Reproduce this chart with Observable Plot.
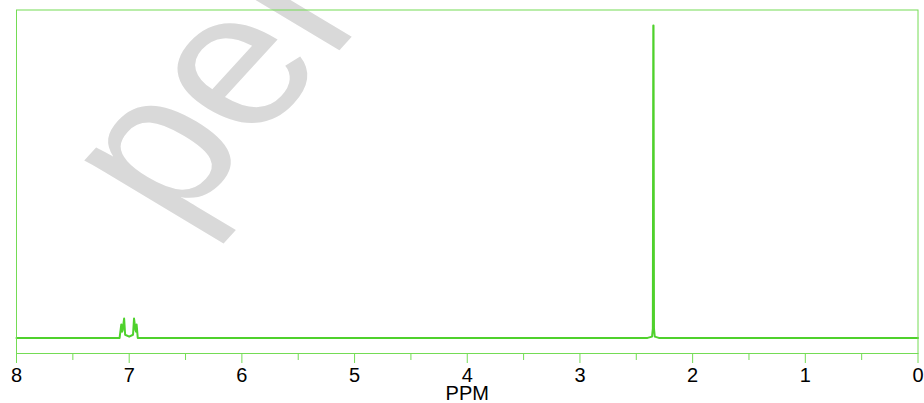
<!DOCTYPE html>
<html>
<head>
<meta charset="utf-8">
<script src="https://cdn.jsdelivr.net/npm/d3@7"></script>
<script src="https://cdn.jsdelivr.net/npm/@observablehq/plot@0.6"></script>
<style>
  html, body { margin: 0; padding: 0; background: white; }
</style>
</head>
<body>
<div id="chart"></div>
<script>
// Spectrum points (chemical shift in ppm, relative intensity)
const ppm = [8.0, 7.085, 7.070, 7.063, 7.058, 7.045, 7.036, 7.000, 6.966, 6.957, 6.944, 6.939, 6.934, 6.924,
             2.40, 2.36, 2.353, 2.349, 2.347, 2.343, 2.336, 2.30, 0.0];
const intensity = [0, 0, 0.043, 0.02, 0.025, 0.062, 0.01, 0.004, 0.01, 0.062, 0.025, 0.02, 0.043, 0,
                   0, 0.004, 0.03, 1.0, 1.0, 0.03, 0.004, 0, 0];
const majorTicks = [8, 7, 6, 5, 4, 3, 2, 1, 0];
const minorTicks = [7.5, 6.5, 5.5, 4.5, 3.5, 2.5, 1.5, 0.5];
const xLabel = "PPM";
const watermark = ["pel"];

const green = "#4fd12c";
const frameGreen = "#74dc55";

const spectrum = ppm.map((p, i) => ({ppm: p, intensity: intensity[i]}));

const chart = Plot.plot({
  width: 924,
  height: 403,
  marginLeft: 16,
  marginRight: 6.5,
  marginTop: 9.5,
  marginBottom: 50,
  style: {
    fontFamily: "'Liberation Sans', Arial, sans-serif",
    fontSize: "20px",
    color: "black",
    background: "white",
    overflow: "hidden"
  },
  x: { domain: [8, 0] },
  y: { domain: [-0.05, 1.05], axis: null },
  marks: [
    Plot.text(watermark, {
      frameAnchor: "top-left",
      dx: 98,
      dy: 184,
      text: d => d,
      rotate: -60,
      fontSize: 218,
      fill: "#d9d9d9",
      textAnchor: "start",
      lineAnchor: "middle"
    }),
    Plot.line(spectrum, { x: "ppm", y: "intensity", stroke: green, strokeWidth: 2 }),
    Plot.frame({ stroke: frameGreen, strokeWidth: 1 }),
    Plot.axisX(minorTicks, {
      tickSize: 7,
      tickFormat: () => "",
      stroke: frameGreen,
      strokeOpacity: 1,
      label: null
    }),
    Plot.axisX(majorTicks, {
      tickSize: 10,
      tickPadding: 4,
      tickFormat: d => String(d),
      stroke: frameGreen,
      strokeOpacity: 1,
      fill: "black",
      fontSize: 20,
      label: xLabel,
      labelAnchor: "center",
      labelArrow: "none",
      labelOffset: 46
    })
  ]
});

// The watermark's letters advance less steeply than their stems lean: shear the rotated text.
d3.select(chart).selectAll("text").each(function () {
  const t = d3.select(this);
  const tr = t.attr("transform");
  if (tr && tr.includes("rotate(-60)")) {
    t.attr("transform", tr.replace("rotate(-60)", "matrix(0.64,-0.70,0.866,0.52,0,0)"));
  }
});
document.getElementById("chart").appendChild(chart);
</script>
</body>
</html>
